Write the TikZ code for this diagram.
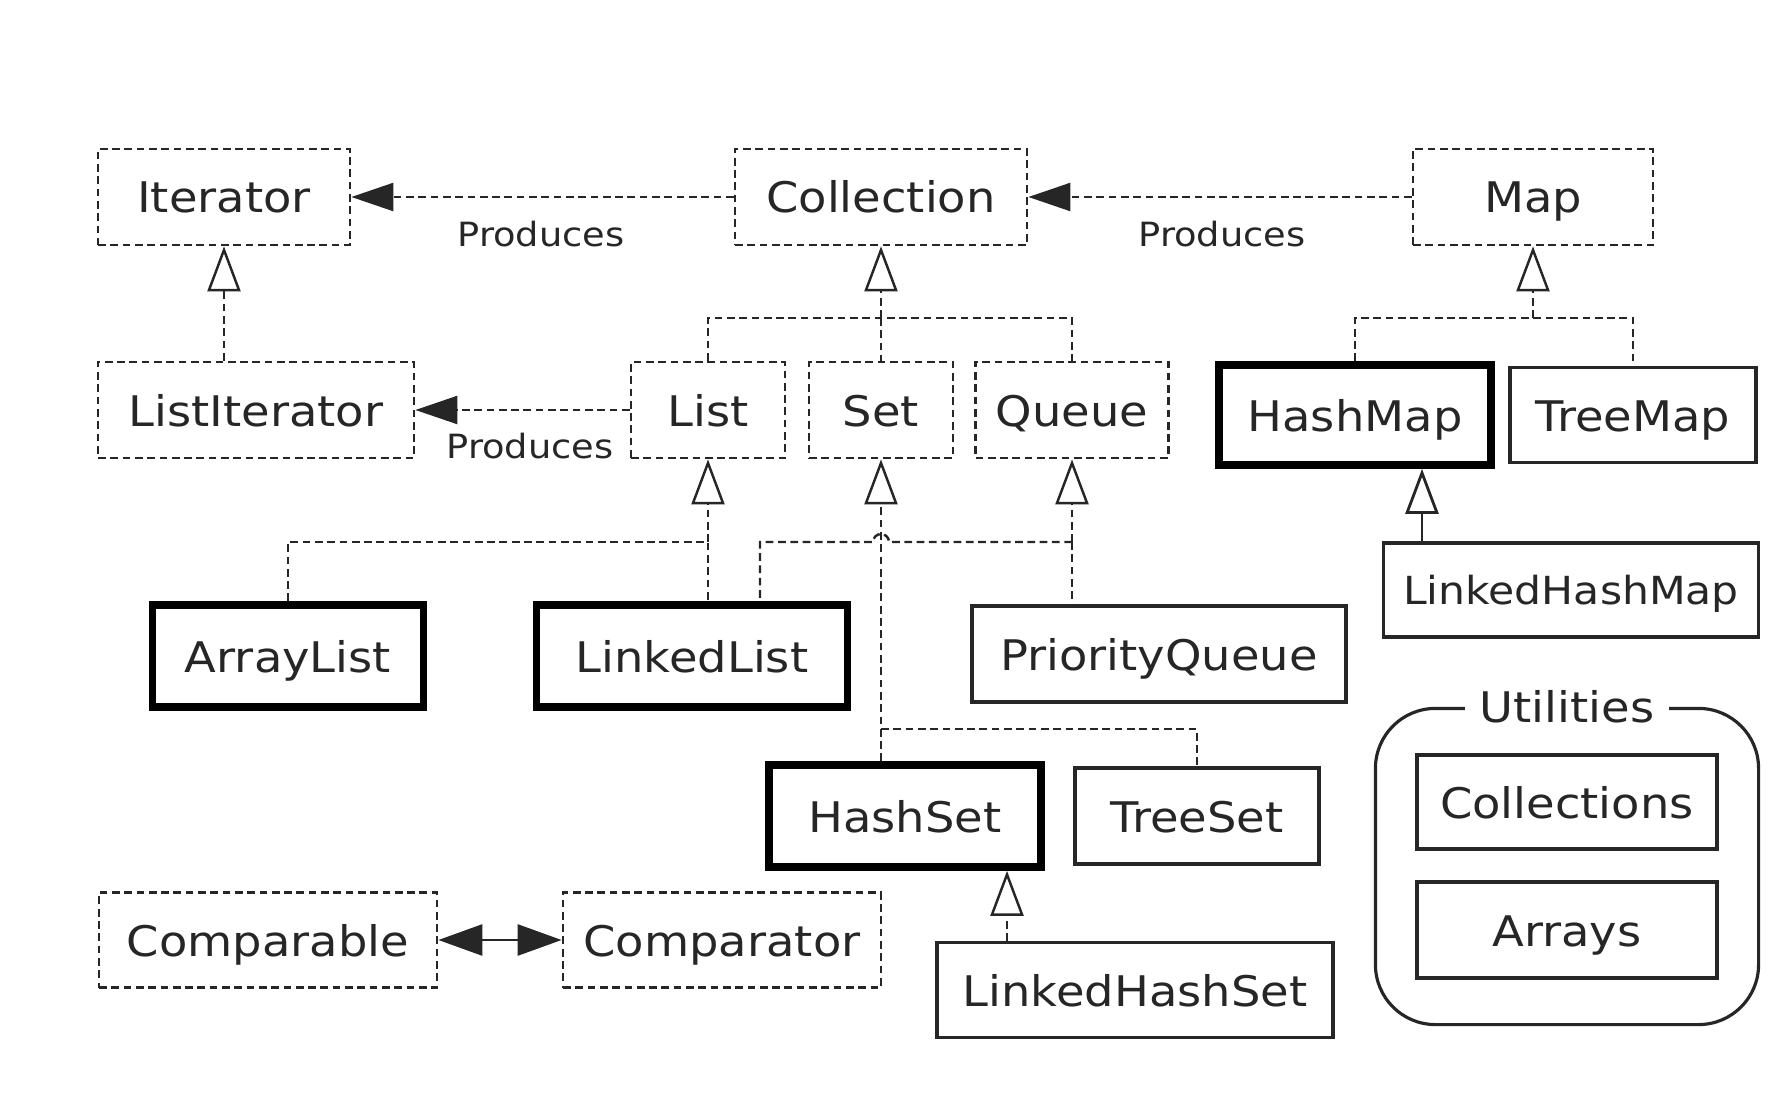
\documentclass[tikz,border=0pt]{standalone}
\usepackage{fontspec}
\setmainfont[FakeStretch=1.1]{DejaVu Sans}
\usetikzlibrary{arrows.meta,calc,fit}

\begin{document}
\begin{tikzpicture}[
	iface/.style={draw=black!85, line width=0.8pt, dash pattern=on 2.2pt off 1.3pt, inner sep=0pt, text height=0.32cm, text depth=0pt, text=black!85, font=\fontsize{12}{14}\selectfont},
	cls/.style={draw=black!85, line width=0.9pt, inner sep=0pt, text height=0.32cm, text depth=0pt, text=black!85, font=\fontsize{12}{14}\selectfont},
	key/.style={draw=black, line width=2.2pt, inner sep=0pt, text height=0.32cm, text depth=0pt, text=black!85, font=\fontsize{12}{14}\selectfont},
	dline/.style={draw=black!85, line width=0.7pt, dash pattern=on 2.2pt off 1.3pt},
	inh/.style={-{Triangle[open, length=0.45cm, width=0.33cm]}},
	prod/.style={dline, -{Triangle[length=0.42cm, width=0.28cm]}},
	lbl/.style={font=\fontsize{9.5}{11}\selectfont, text=black!85}
]

				\useasboundingbox (0,0) rectangle (17.92,-11.00);

				% LEVEL 1

				\node[iface, minimum width=2.52cm, minimum height=0.96cm] (Iterator) at (2.24,-1.97) {Iterator};
				\node[iface, minimum width=2.92cm, minimum height=0.96cm] (Collection) at (8.81,-1.97) {Collection};
				\node[iface, minimum width=2.40cm, minimum height=0.96cm] (Map) at (15.33,-1.97) {Map};

				\draw[prod] (Collection) -- (Iterator);
				\draw[prod] (Map) -- (Collection);
				\node[lbl] (prodA) at (5.41,-2.34) {Produces};
				\node[lbl] (prodB) at (12.22,-2.34) {Produces};

				% LEVEL 2

				\node[iface, minimum width=3.16cm, minimum height=0.96cm] (ListIterator) at (2.56,-4.10) {ListIterator};
				\node[iface, minimum width=1.54cm, minimum height=0.96cm] (List) at (7.08,-4.10) {List};
				\node[iface, minimum width=1.44cm, minimum height=0.96cm] (Set) at (8.81,-4.10) {Set};
				\node[iface, minimum width=1.93cm, minimum height=0.96cm] (Queue) at (10.72,-4.10) {Queue};
				\node[key, minimum width=2.72cm, minimum height=1.00cm] (HashMap) at (13.55,-4.15) {HashMap};
				\node[cls, minimum width=2.46cm, minimum height=0.95cm] (TreeMap) at (16.33,-4.15) {TreeMap};

				\draw[dline, inh] (ListIterator.north -| Iterator) -- (Iterator);
				\draw[prod] (List) -- (ListIterator);
				\node[lbl] (prodC) at (5.30,-4.46) {Produces};

				\coordinate (cbus) at (Collection.south |- 0,-3.18);
				\draw[dline, inh] (cbus) -- (Collection.south);
				\draw[dline] (List.north) |- (cbus) -| (Queue.north);
				\draw[dline] (cbus) -- (Set.north);

				\coordinate (mbus) at (Map.south |- 0,-3.18);
				\draw[dline, inh] (mbus) -- (Map.south);
				\draw[dline] (HashMap.north) |- (mbus) -| (TreeMap.north);

				% LEVEL 3

				\node[key, minimum width=2.71cm, minimum height=1.02cm] (ArrayList) at (2.88,-6.56) {ArrayList};
				\node[key, minimum width=3.11cm, minimum height=1.02cm] (LinkedList) at (6.92,-6.56) {LinkedList};
				\node[cls, minimum width=3.74cm, minimum height=0.96cm] (PriorityQueue) at (11.59,-6.54) {PriorityQueue};
				\node[cls, minimum width=3.75cm, minimum height=0.94cm, text height=0.29cm, font=\fontsize{11}{13}\selectfont] (LinkedHashMap) at (15.71,-5.90) {LinkedHashMap};

				\coordinate (lbus) at (List.south |- 0,-5.42);
				\draw[dline, inh] (lbus) -- (List.south);
				\draw[dline] (ArrayList.north) |- (lbus) -- (lbus |- LinkedList.north);

				\coordinate (qbus) at (Queue.south |- 0,-5.42);
				\coordinate (llq) at ($(LinkedList.north)+(0.68,0)$);
				\draw[dline, inh] (qbus) -- (Queue.south);
				\draw[dline] (qbus) -- (qbus |- PriorityQueue.north);
				\draw[dline] (qbus) -- ($(Set.south |- qbus)+(0.08,0)$) arc[start angle=0, end angle=180, radius=0.08] -- (llq |- qbus) -- (llq);

				\coordinate (hmx) at (14.22,0);
				\draw[draw=black!85, line width=0.8pt, inh] (LinkedHashMap.north -| hmx) -- (HashMap.south -| hmx);

				% LEVEL 4

				\node[key, minimum width=2.72cm, minimum height=1.02cm] (HashSet) at (9.05,-8.16) {HashSet};
				\node[cls, minimum width=2.44cm, minimum height=0.96cm] (TreeSet) at (11.97,-8.16) {TreeSet};
				\node[cls, minimum width=3.96cm, minimum height=0.95cm] (LinkedHashSet) at (11.35,-9.90) {LinkedHashSet};

				\draw[dline, inh] (Set.south |- HashSet.north) -- (Set.south);
				\coordinate (sbus) at (Set.south |- 0,-7.29);
				\draw[dline] (sbus) -| (TreeSet.north);

				\coordinate (hsx) at (10.07,0);
				\draw[dline, inh] (LinkedHashSet.north -| hsx) -- (HashSet.south -| hsx);

				% COMPARING

				\node[iface, minimum width=3.38cm, minimum height=0.95cm] (Comparable) at (2.68,-9.40) {Comparable};
				\node[iface, minimum width=3.18cm, minimum height=0.95cm] (Comparator) at (7.22,-9.40) {Comparator};
				\draw[draw=black!85, line width=0.8pt, {Triangle[length=0.44cm, width=0.31cm]}-{Triangle[length=0.44cm, width=0.31cm]}] (Comparable) -- (Comparator);

				% UTILITIES

				\node[cls, minimum width=3.00cm, minimum height=0.94cm] (Collections) at (15.67,-8.02) {Collections};
				\node[cls, minimum width=3.00cm, minimum height=0.96cm] (Arrays) at (15.67,-9.30) {Arrays};
				\node[draw=black!85, line width=0.9pt, rounded corners=0.6cm, inner xsep=0.40cm, inner ysep=0.45cm, fit=(Collections) (Arrays)] (Utilities) {};
				\node[fill=white, inner xsep=0.15cm, inner ysep=0pt, text=black!85, font=\fontsize{12}{14}\selectfont] (UtilTitle) at (Utilities.north) {Utilities};
			\end{tikzpicture}
\end{document}
